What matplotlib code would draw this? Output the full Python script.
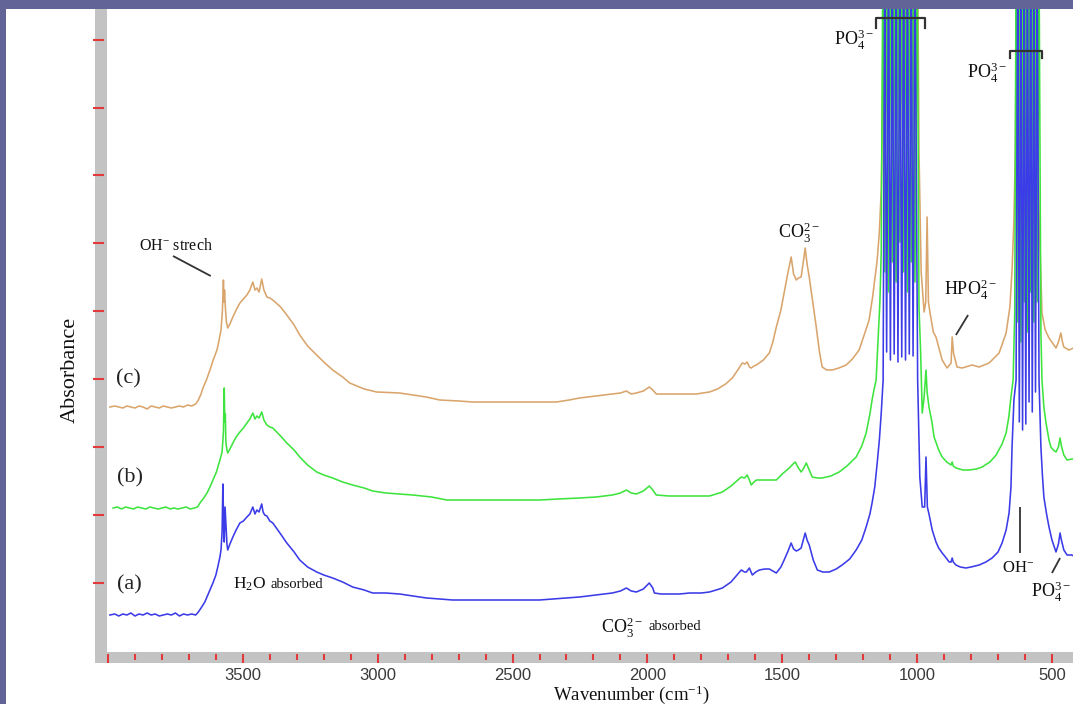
import matplotlib
matplotlib.use("Agg")
import matplotlib.pyplot as plt
import numpy as np
from matplotlib.patches import Rectangle

# ---------------- data (wavenumber cm-1, absorbance a.u.) ----------------
spectrum_a = [
    (3993, 0.37), (3975, 0.38), (3960, 0.36), (3945, 0.38), (3930, 0.37), (3915, 0.39), (3900, 0.36),
    (3885, 0.38), (3870, 0.37), (3855, 0.39), (3840, 0.37), (3825, 0.38), (3810, 0.36), (3795, 0.37),
    (3780, 0.38), (3765, 0.37), (3750, 0.39), (3735, 0.36), (3720, 0.38), (3705, 0.37), (3690, 0.38),
    (3675, 0.37), (3665, 0.40), (3655, 0.44), (3641, 0.50), (3633, 0.55), (3622, 0.62), (3611, 0.69),
    (3600, 0.77), (3593, 0.85), (3585, 0.95), (3581, 1.02), (3577, 1.20), (3574, 1.68), (3571, 1.25),
    (3569, 1.10), (3566, 1.45), (3563, 1.30), (3559, 1.08), (3556, 1.02), (3548, 1.08), (3537, 1.15),
    (3525, 1.22), (3511, 1.29), (3498, 1.31), (3485, 1.35), (3474, 1.38), (3463, 1.45), (3455, 1.38),
    (3448, 1.42), (3440, 1.40), (3430, 1.48), (3425, 1.40), (3419, 1.37), (3411, 1.36), (3400, 1.31),
    (3389, 1.29), (3360, 1.18), (3337, 1.09), (3310, 1.00), (3289, 0.92), (3260, 0.85), (3226, 0.80),
    (3200, 0.77), (3167, 0.74), (3130, 0.70), (3093, 0.65), (3050, 0.62), (3019, 0.59), (2970, 0.59),
    (2919, 0.58), (2870, 0.56), (2819, 0.54), (2770, 0.53), (2722, 0.52), (2650, 0.52), (2560, 0.52),
    (2480, 0.52), (2400, 0.52), (2352, 0.53), (2300, 0.54), (2252, 0.55), (2190, 0.57), (2130, 0.59),
    (2100, 0.61), (2078, 0.64), (2060, 0.61), (2041, 0.60), (2015, 0.63), (1993, 0.69), (1980, 0.64),
    (1974, 0.59), (1950, 0.58), (1919, 0.58), (1880, 0.58), (1844, 0.59), (1800, 0.59), (1770, 0.60),
    (1745, 0.62), (1722, 0.64), (1690, 0.70), (1665, 0.78), (1652, 0.82), (1640, 0.80), (1633, 0.80),
    (1622, 0.84), (1611, 0.77), (1598, 0.80), (1585, 0.82), (1565, 0.83), (1548, 0.83), (1535, 0.81),
    (1522, 0.79), (1505, 0.85), (1493, 0.92), (1480, 1.00), (1467, 1.09), (1458, 1.03), (1448, 1.01),
    (1440, 1.02), (1430, 1.04), (1422, 1.12), (1415, 1.19), (1408, 1.12), (1400, 1.07), (1385, 0.92),
    (1370, 0.82), (1350, 0.80), (1326, 0.80), (1300, 0.83), (1278, 0.87), (1250, 0.93), (1226, 1.02),
    (1205, 1.12), (1189, 1.25), (1175, 1.38), (1167, 1.49), (1157, 1.65), (1148, 1.89), (1140, 2.12),
    (1133, 2.39), (1126, 2.72),
    (1120, 7.0), (1113, 3.00), (1106, 7.0), (1099, 2.92), (1092, 7.0), (1085, 2.98), (1078, 7.0),
    (1071, 2.90), (1064, 7.0), (1057, 2.95), (1050, 7.0), (1043, 2.92), (1036, 7.0), (1029, 2.98),
    (1022, 7.0), (1015, 2.96), (1008, 7.0),
    (998, 2.72), (990, 1.75), (981, 1.45), (972, 1.45), (967, 1.95), (962, 1.45), (956, 1.38),
    (944, 1.22), (930, 1.10), (920, 1.04), (907, 0.99), (895, 0.95), (881, 0.90), (874, 0.90),
    (870, 0.94), (866, 0.90), (856, 0.87), (840, 0.85), (819, 0.84), (800, 0.85), (770, 0.87),
    (745, 0.90), (722, 0.94), (700, 1.00), (685, 1.09), (670, 1.22), (659, 1.39), (652, 1.65),
    (648, 2.05), (641, 2.52), (633, 2.72),
    (627, 7.0), (621, 2.30), (615, 7.0), (609, 2.22), (603, 7.0), (597, 2.28), (591, 7.0),
    (585, 2.50), (579, 7.0), (573, 2.40), (567, 7.0), (561, 2.60), (555, 7.0),
    (548, 2.72), (541, 2.05), (535, 1.75), (530, 1.55), (520, 1.38), (511, 1.25), (500, 1.12),
    (485, 1.00), (476, 1.08), (470, 1.19), (465, 1.12), (456, 1.02), (444, 0.97), (426, 0.97), (420, 0.96),
]

spectrum_b = [
    (3981, 1.44), (3965, 1.45), (3950, 1.43), (3935, 1.45), (3920, 1.44), (3905, 1.43), (3890, 1.45),
    (3875, 1.44), (3860, 1.43), (3845, 1.45), (3830, 1.44), (3815, 1.43), (3800, 1.44), (3785, 1.45),
    (3770, 1.43), (3755, 1.44), (3740, 1.43), (3725, 1.44), (3710, 1.45), (3695, 1.43), (3680, 1.44),
    (3668, 1.45), (3659, 1.49), (3645, 1.54), (3633, 1.59), (3622, 1.65), (3611, 1.72), (3598, 1.80),
    (3585, 1.92), (3577, 2.00), (3572, 2.20), (3569, 2.64), (3567, 2.30), (3565, 2.38), (3563, 2.10),
    (3559, 2.02), (3556, 1.99), (3548, 2.03), (3537, 2.09), (3525, 2.15), (3511, 2.20), (3498, 2.24),
    (3485, 2.29), (3474, 2.33), (3463, 2.39), (3455, 2.33), (3448, 2.36), (3440, 2.34), (3430, 2.40),
    (3422, 2.32), (3411, 2.27), (3400, 2.25), (3389, 2.24), (3360, 2.16), (3337, 2.09), (3310, 2.02),
    (3289, 1.95), (3260, 1.87), (3226, 1.80), (3200, 1.77), (3167, 1.74), (3130, 1.70), (3093, 1.67),
    (3050, 1.64), (3019, 1.61), (2970, 1.59), (2919, 1.58), (2870, 1.57), (2800, 1.55), (2744, 1.52),
    (2650, 1.52), (2560, 1.52), (2480, 1.52), (2400, 1.52), (2330, 1.53), (2252, 1.54), (2190, 1.55),
    (2130, 1.57), (2100, 1.59), (2078, 1.62), (2060, 1.59), (2041, 1.58), (2015, 1.61), (1993, 1.66),
    (1980, 1.62), (1967, 1.57), (1920, 1.56), (1844, 1.56), (1770, 1.56), (1745, 1.58), (1722, 1.60),
    (1690, 1.66), (1665, 1.72), (1652, 1.75), (1640, 1.74), (1630, 1.77), (1622, 1.72), (1615, 1.67),
    (1605, 1.70), (1596, 1.72), (1560, 1.72), (1522, 1.72), (1500, 1.78), (1474, 1.84), (1460, 1.88),
    (1452, 1.90), (1440, 1.84), (1430, 1.80), (1420, 1.84), (1411, 1.89), (1400, 1.82), (1389, 1.75),
    (1370, 1.74), (1352, 1.74), (1320, 1.76), (1289, 1.80), (1260, 1.86), (1226, 1.95), (1205, 2.06),
    (1189, 2.19), (1175, 2.38), (1167, 2.52), (1160, 2.62), (1152, 2.72), (1145, 3.10), (1138, 3.50),
    (1133, 4.00),
    (1127, 7.0), (1120, 3.80), (1113, 7.0), (1106, 3.60), (1099, 7.0), (1092, 3.90), (1085, 7.0),
    (1078, 3.70), (1071, 7.0), (1064, 4.10), (1057, 7.0), (1050, 3.80), (1043, 7.0), (1036, 3.60),
    (1029, 7.0), (1022, 3.90), (1015, 7.0), (1008, 3.70), (1000, 7.0),
    (993, 3.45), (987, 3.00), (981, 2.39), (974, 2.55), (970, 2.70), (967, 2.82), (963, 2.60),
    (956, 2.45), (945, 2.30), (937, 2.15), (920, 2.02), (907, 1.95), (890, 1.90), (874, 1.87),
    (870, 1.90), (866, 1.86), (856, 1.84), (830, 1.82), (807, 1.82), (780, 1.83), (759, 1.85),
    (730, 1.90), (707, 1.97), (685, 2.08), (670, 2.19), (660, 2.35), (652, 2.55), (644, 2.72), (638, 3.40),
    (633, 7.0), (627, 3.30), (621, 7.0), (615, 3.10), (609, 7.0), (603, 3.50), (597, 7.0),
    (591, 3.20), (585, 7.0), (579, 3.60), (573, 7.0), (567, 3.30), (561, 7.0), (555, 3.50), (548, 7.0),
    (541, 3.20), (537, 2.72), (530, 2.45), (522, 2.29), (511, 2.12), (504, 2.05), (495, 2.02),
    (485, 2.00), (476, 2.05), (470, 2.14), (465, 2.06), (456, 1.97), (444, 1.92), (426, 1.93), (420, 1.93),
]

spectrum_c = [
    (3993, 2.45), (3975, 2.46), (3960, 2.45), (3945, 2.44), (3930, 2.46), (3915, 2.45), (3900, 2.44),
    (3885, 2.46), (3870, 2.45), (3855, 2.43), (3840, 2.46), (3825, 2.45), (3810, 2.44), (3795, 2.46),
    (3780, 2.45), (3765, 2.44), (3750, 2.45), (3735, 2.46), (3720, 2.45), (3705, 2.47), (3690, 2.46),
    (3675, 2.48), (3665, 2.52), (3655, 2.58), (3648, 2.64), (3635, 2.72), (3622, 2.82), (3610, 2.92),
    (3596, 3.02), (3588, 3.12), (3581, 3.22), (3576, 3.40), (3572, 3.72), (3570, 3.50), (3568, 3.62),
    (3565, 3.45), (3561, 3.30), (3556, 3.24), (3548, 3.28), (3537, 3.35), (3525, 3.42), (3511, 3.49),
    (3498, 3.53), (3485, 3.57), (3474, 3.62), (3463, 3.70), (3455, 3.62), (3448, 3.64), (3440, 3.60),
    (3430, 3.73), (3422, 3.62), (3411, 3.55), (3400, 3.54), (3389, 3.52), (3360, 3.45), (3337, 3.37),
    (3310, 3.27), (3289, 3.17), (3260, 3.06), (3226, 2.97), (3200, 2.90), (3167, 2.82), (3130, 2.75),
    (3104, 2.69), (3050, 2.63), (3004, 2.60), (2919, 2.59), (2870, 2.57), (2820, 2.55), (2770, 2.52),
    (2700, 2.51), (2648, 2.50), (2560, 2.50), (2480, 2.50), (2426, 2.50), (2337, 2.50), (2290, 2.52),
    (2252, 2.54), (2190, 2.56), (2130, 2.58), (2100, 2.59), (2078, 2.61), (2060, 2.58), (2041, 2.59),
    (2015, 2.61), (1993, 2.65), (1980, 2.62), (1967, 2.58), (1900, 2.58), (1819, 2.58), (1770, 2.60),
    (1740, 2.63), (1710, 2.68), (1685, 2.74), (1665, 2.82), (1648, 2.89), (1638, 2.88), (1630, 2.90),
    (1622, 2.85), (1615, 2.84), (1605, 2.86), (1596, 2.87), (1570, 2.92), (1548, 2.99), (1535, 3.10),
    (1522, 3.25), (1505, 3.42), (1493, 3.59), (1480, 3.78), (1467, 3.95), (1458, 3.78), (1448, 3.72),
    (1440, 3.74), (1430, 3.75), (1422, 3.90), (1415, 4.04), (1408, 3.88), (1400, 3.75), (1387, 3.50),
    (1374, 3.25), (1362, 3.00), (1352, 2.85), (1335, 2.82), (1315, 2.82), (1290, 2.84), (1263, 2.87),
    (1240, 2.93), (1215, 3.02), (1195, 3.18), (1178, 3.32), (1165, 3.55), (1157, 3.72), (1148, 3.92),
    (1140, 4.20), (1133, 4.62), (1130, 5.10),
    (1124, 7.0), (1117, 5.40), (1110, 7.0), (1103, 5.60), (1096, 7.0), (1089, 5.30), (1082, 7.0),
    (1075, 5.70), (1068, 7.0), (1061, 5.50), (1054, 7.0), (1047, 5.80), (1040, 7.0), (1033, 5.40),
    (1026, 7.0), (1019, 5.60), (1012, 7.0), (1005, 5.20), (998, 7.0),
    (993, 5.00), (985, 3.80), (978, 3.55), (974, 3.40), (968, 3.50), (963, 4.35), (958, 3.50),
    (952, 3.39), (940, 3.20), (930, 3.15), (907, 2.92), (889, 2.84), (874, 2.89), (870, 3.15),
    (865, 2.99), (852, 2.85), (833, 2.84), (796, 2.87), (770, 2.85), (733, 2.89), (696, 2.99),
    (670, 3.19), (656, 3.45), (648, 3.82), (641, 4.32), (636, 5.00),
    (630, 7.0), (624, 5.40), (618, 7.0), (612, 5.70), (606, 7.0), (600, 5.30), (594, 7.0),
    (588, 5.60), (582, 7.0), (576, 5.50), (570, 7.0), (564, 5.80), (558, 7.0), (552, 5.20),
    (548, 4.39), (537, 3.39), (525, 3.22), (511, 3.14), (485, 3.04), (476, 3.10), (467, 3.19),
    (461, 3.10), (456, 3.05), (437, 3.02), (420, 3.04),
]

series_names = ["(c)", "(b)", "(a)"]
series_colors = ["#d9a56c", "#3ee43e", "#3b3be8"]

x_major = [4000, 3500, 3000, 2500, 2000, 1500, 1000, 500]
x_major_labels = ["", "3500", "3000", "2500", "2000", "1500", "1000", "500"]
x_minor = [w for w in range(3900, 400, -100) if w % 500 != 0]
y_ticks = [0.69, 1.37, 2.05, 2.73, 3.41, 4.09, 4.77, 5.44, 6.12]

# ---------------- styling ----------------
SERIF = "Liberation Serif"
plt.rcParams["mathtext.fontset"] = "custom"
plt.rcParams["mathtext.rm"] = SERIF
plt.rcParams["mathtext.it"] = SERIF + ":italic"
plt.rcParams["mathtext.bf"] = SERIF + ":bold"

W, H = 1073, 704
fig = plt.figure(figsize=(W / 100, H / 100), dpi=100)
fig.patch.set_facecolor("white")
ax = fig.add_axes([108 / W, 52 / H, 965 / W, 643 / H])

# grey frame bars of the original software
fig.add_artist(Rectangle((95 / W, 41 / H), 12 / W, 654 / H, transform=fig.transFigure,
                         facecolor="#c3c3c3", edgecolor="none", zorder=-1))
fig.add_artist(Rectangle((95 / W, 41 / H), (W - 95) / W, 11 / H, transform=fig.transFigure,
                         facecolor="#c3c3c3", edgecolor="none", zorder=-1))

for data, color in zip([spectrum_c, spectrum_b, spectrum_a], series_colors):
    arr = np.array(data)
    ax.plot(arr[:, 0], arr[:, 1], color=color, lw=1.15)

ax.set_xlim(4000, 422)
ax.set_ylim(0, 6.43)

for s in ax.spines.values():
    s.set_visible(False)
ax.spines["left"].set_position(("outward", 3))
ax.spines["bottom"].set_position(("outward", 1.5))

ax.set_xticks(x_major)
ax.set_xticklabels(x_major_labels)
ax.set_xticks(x_minor, minor=True)
ax.set_yticks(y_ticks)
ax.set_yticklabels([])
red = "#e23a3a"
ax.tick_params(axis="x", which="major", direction="out", length=6.5, width=1.5, color=red,
               labelsize=12, labelcolor="#3a3a3a", pad=3.5)
ax.tick_params(axis="x", which="minor", direction="out", length=4, width=1.5, color=red)
ax.tick_params(axis="y", which="major", direction="out", length=8, width=1.5, color=red)
for lab in ax.get_xticklabels():
    lab.set_family("Liberation Sans")

ax.set_xlabel("Wavenumber (cm$^{-1}$)", family=SERIF, fontsize=13.5, color="#111111")
ax.xaxis.set_label_coords((631 - 108) / 965, (652 - 683) / 643)
ax.set_ylabel("Absorbance", family=SERIF, fontsize=16, color="#111111", va="center")
ax.yaxis.set_label_coords((70 - 108) / 965, (652 - 370) / 643)

# series labels
for name, (wn, ab) in zip(["(a)", "(b)", "(c)"], [(3922, 0.67), (3919, 1.74), (3926, 2.73)]):
    ax.text(wn, ab, name, family=SERIF, fontsize=16, ha="center", va="center", color="#222222")

txt = dict(family=SERIF, color="#111111", ha="center", va="center")
line = dict(color="#333333", lw=1.3, solid_capstyle="butt")

ax.text(3748, 4.06, "OH$^{-}$ strech", fontsize=11.5, **txt)
ax.plot([3759, 3619], [3.96, 3.76], **line)

ax.text(1437, 4.19, "CO$_3^{2-}$", fontsize=13, **txt)

ax.text(804, 3.62, "HPO$_4^{2-}$", fontsize=13, **txt)
ax.plot([811, 856], [3.37, 3.17], **line)

ax.text(1233, 6.12, "PO$_4^{3-}$", fontsize=13, **txt)
ax.plot([1152, 1152, 970, 970], [6.24, 6.34, 6.34, 6.24], color="#333333", lw=1.6, zorder=5)

ax.text(741, 5.79, "PO$_4^{3-}$", fontsize=13, **txt)
ax.plot([656, 656, 537, 537], [5.94, 6.01, 6.01, 5.94], color="#333333", lw=1.6, zorder=5)

ax.text(626, 0.84, "OH$^{-}$", fontsize=12, **txt)
ax.plot([619, 619], [1.45, 0.99], **line)

ax.text(505, 0.60, "PO$_4^{3-}$", fontsize=13, **txt)
ax.plot([470, 500], [0.94, 0.79], **line)

ax.text(3474, 0.68, "H$_2$O", fontsize=12.5, **txt)
ax.text(3300, 0.67, "absorbed", fontsize=10.5, **txt)

ax.text(2096, 0.24, "CO$_3^{2-}$", fontsize=13, **txt)
ax.text(1900, 0.25, "absorbed", fontsize=10.5, **txt)

# purple window border
fig.add_artist(Rectangle((0, (H - 9) / H), 1, 9 / H, transform=fig.transFigure,
                         facecolor="#626497", edgecolor="none", zorder=10))
fig.add_artist(Rectangle((0, 0), 6 / W, 1, transform=fig.transFigure,
                         facecolor="#626497", edgecolor="none", zorder=10))

fig.savefig("out.png", dpi=100)
